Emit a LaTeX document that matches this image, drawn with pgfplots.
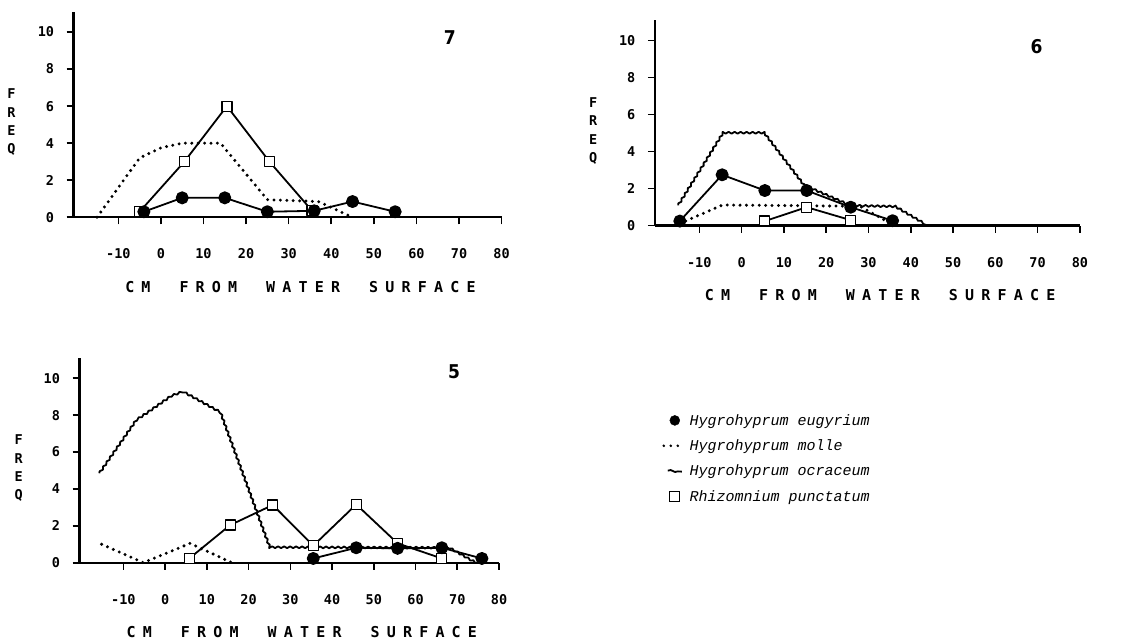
\documentclass[border=0pt]{standalone}
\usepackage{fontspec}
\setmainfont{DejaVu Sans}
\newfontfamily\monob{DejaVu Sans Mono Bold}
\newfontfamily\legfont{Liberation Mono}
\newfontfamily\condfont{DejaVu Sans Condensed Bold}
\usepackage{pgfplots}
\pgfplotsset{compat=1.18}
\usetikzlibrary{decorations.pathmorphing}

\newcommand\ls{\hspace{7.2pt}}
\newcommand\ws{\hspace{29pt}}
\newcommand\xlab{{\monob\fontsize{15}{17}\selectfont C\ls M\ws F\ls R\ls O\ls M\ws W\ls A\ls T\ls E\ls R\ws S\ls U\ls R\ls F\ls A\ls C\ls E}}
\newcommand\ylab{{\monob\fontsize{13.5}{18.3}\selectfont\begin{tabular}{@{}c@{}}F\\R\\E\\Q\end{tabular}}}

\pgfplotsset{
  panel/.style={
    scale only axis, clip=false,
    xmin=-20.5, xmax=80, ymin=0, ymax=11.1,
    axis lines=left,
    axis line style={line width=2.4pt, -},
    xtick={-10,0,10,20,30,40,50,60,70,80},
    ytick={0,2,4,6,8,10},
    tick align=outside,
    major tick length=7pt,
    tick style={line width=1.6pt, black},
    /pgf/number format/assume math mode=true,
    tick label style={font=\monob\fontsize{13.5}{15}\selectfont},
    xticklabel style={yshift=-21pt},
    yticklabel style={xshift=-9pt},
    xlabel={\xlab},
    ylabel={\ylab},
    x label style={at={(axis description cs:0.53,-0.34)}, anchor=center},
    y label style={at={(axis description cs:-0.145,0.46)}, rotate=-90, anchor=center},
  },
  eug/.style={black, line width=1.8pt, line join=round, mark=*, mark size=5.6pt, mark options={solid, fill=black}},
  mol/.style={black, line width=3.3pt, dash pattern=on 0pt off 6.4pt, line cap=round, mark=none},
  ocr/.style={black, line width=1.8pt, mark=none, line join=round, decorate, decoration={snake, amplitude=0.9pt, segment length=6pt}},
  pun/.style={black, line width=1.8pt, line join=round, mark=square*, mark size=5pt, mark options={solid, fill=white, line width=1.2pt}},
}

\begin{document}
\begin{tikzpicture}
\path[use as bounding box] (0,0) rectangle (1131pt,640pt);

% ---------- panel 7 ----------
\begin{axis}[panel, at={(73.6pt,422.7pt)}, anchor=south west, width=428pt, height=205.7pt]
\addplot[mol] coordinates {(-15,0) (-5,3.2) (0,3.75) (5,4.0) (14,4.0) (25,0.95) (37,0.85) (45,0)};
\addplot[pun] coordinates {(-5,0.3) (5.5,3) (15.5,6) (25.5,3) (35.5,0.35)};
\addplot[eug] coordinates {(-4,0.3) (5,1.05) (15,1.05) (25,0.3) (36,0.35) (45,0.85) (55,0.3)};
\node[font=\condfont\fontsize{19}{19}\selectfont] at (rel axis cs:0.879,0.872) {7};
\end{axis}

% ---------- panel 6 ----------
\begin{axis}[panel, at={(654.9pt,414.3pt)}, anchor=south west, width=425pt, height=205.4pt]
\addplot[ocr] coordinates {(-15,1.1) (-4.3,5.05) (5.1,5.05) (14.6,2.2) (25.6,1.1) (36.3,1.05) (44.1,0)};
\addplot[mol] coordinates {(-14.6,0.12) (-4.5,1.12) (28,1.05) (35,0.15)};
\addplot[pun] coordinates {(5.5,0.25) (15.4,1.0) (25.8,0.3)};
\addplot[eug] coordinates {(-14.6,0.25) (-4.6,2.75) (5.5,1.9) (15.4,1.9) (25.8,1.0) (35.7,0.27)};
\node[font=\condfont\fontsize{19}{19}\selectfont] at (rel axis cs:0.898,0.871) {6};
\end{axis}

% ---------- panel 5 ----------
\begin{axis}[panel, at={(79.5pt,77.3pt)}, anchor=south west, width=419.5pt, height=204.7pt,
  legend cell align=left,
  legend style={at={(axis description cs:1.389,0.736)}, anchor=north west, draw=none, fill=none,
    inner sep=0pt, row sep=9pt, font=\legfont\itshape\fontsize{15}{17}\selectfont,
    /tikz/every odd column/.append style={column sep=5pt}},
  legend image code/.code={\draw[#1] (0pt,0pt) -- (18pt,0pt);}]
\addplot[ocr, forget plot] coordinates {(-15.75,4.85) (-7,7.7) (-5,8.0) (1,8.95) (4,9.2) (12.8,8.1) (24.5,0.85) (67.9,0.82) (74.3,0)};
\addplot[mol, forget plot] coordinates {(-15.2,1.0) (-5.2,0) (6,1.05) (16,0)};
\addplot[pun, forget plot] coordinates {(5.8,0.23) (15.6,2.04) (25.8,3.13) (35.5,0.92) (45.8,3.16) (55.7,1.05) (66.3,0.23)};
\addplot[eug, forget plot] coordinates {(35.5,0.23) (45.8,0.81) (55.7,0.78) (66.3,0.81) (75.9,0.23)};
\addlegendimage{legend image code/.code={\fill[black] (13pt,0pt) circle (5pt);}}
\addlegendentry{Hygrohyprum eugyrium}
\addlegendimage{legend image code/.code={\draw[black, line width=2.8pt, dash pattern=on 0pt off 7pt, line cap=round] (2pt,0pt) -- (17pt,0pt);}}
\addlegendentry{Hygrohyprum molle}
\addlegendimage{legend image code/.code={\draw[black, line width=1.8pt, decorate, decoration={snake, amplitude=0.8pt, segment length=9pt}] (6pt,0.5pt) -- (20pt,-0.5pt);}}
\addlegendentry{Hygrohyprum ocraceum}
\addlegendimage{legend image code/.code={\draw[black, line width=1.1pt, fill=white] (8pt,-5pt) rectangle (18pt,5pt);}}
\addlegendentry{Rhizomnium punctatum}
\node[font=\condfont\fontsize{19}{19}\selectfont] at (rel axis cs:0.893,0.933) {5};
\end{axis}
\end{tikzpicture}
\end{document}
